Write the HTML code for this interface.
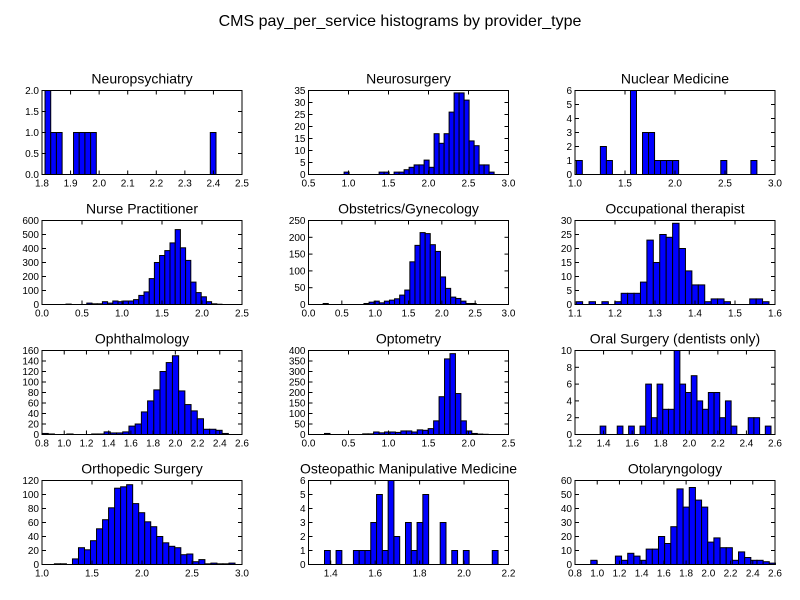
<!DOCTYPE html>
<html><head><meta charset="utf-8"><style>
body{margin:0;background:#fff;}
svg{display:block;font-family:"Liberation Sans","DejaVu Sans",sans-serif;}
</style></head><body>
<svg id="chart" width="800" height="600" viewBox="0 0 800 600">
<rect width="800" height="600" fill="#fff"/>
<text x="400" y="26" text-anchor="middle" font-size="16" fill="#000">CMS pay_per_service histograms by provider_type</text>
</svg>
<script>
const titles = ["Neuropsychiatry","Neurosurgery","Nuclear Medicine","Nurse Practitioner","Obstetrics/Gynecology","Occupational therapist","Ophthalmology","Optometry","Oral Surgery (dentists only)","Orthopedic Surgery","Osteopathic Manipulative Medicine","Otolaryngology"];
const binMin = [1.8106,0.945,1.013,0.30,0.22,1.103,0.8,0.2,1.376,1.124,1.372,0.942];
const binMax = [2.409,2.82,2.819,2.25,2.515,1.585,2.477,2.246,2.572,2.93,2.153,2.604];
const counts0 = [2,1,1,0,0,1,1,1,1,0,0,0,0,0,0,0,0,0,0,0,0,0,0,0,0,0,0,0,0,1];
const counts1 = [1,0,0,0,0,0,0,1,1,0,1,1,2,3,4,4,6,3,17,13,17,26,34,34,31,14,12,4,4,1];
const counts2 = [1,0,0,0,2,1,0,0,0,6,0,3,3,1,1,1,1,0,0,0,0,0,0,0,1,0,0,0,0,1];
const counts3 = [3,0,0,0,10,5,5,20,10,25,20,25,25,35,65,90,185,300,350,385,440,535,405,315,160,85,55,20,5,2];
const counts4 = [3,0,0,0,0,0,0,0,3,7,10,5,10,13,17,28,43,127,176,214,211,178,158,82,48,22,18,10,3,3];
const counts5 = [1,0,1,0,1,0,1,4,4,4,8,23,15,25,24,29,20,12,7,7,1,2,2,1,0,0,0,2,2,1];
const counts6 = [2,1,0,0,1,0,0,0,1,1,5,3,3,5,16,20,43,64,85,120,137,150,83,57,45,30,10,10,8,2];
const counts7 = [5,0,0,0,0,0,0,3,3,12,8,12,12,10,17,17,12,22,20,28,65,180,360,385,195,65,17,5,2,1];
const counts8 = [1,0,0,1,0,1,0,1,6,2,6,3,3,10,6,5,7,4,3,5,5,2,4,1,0,0,2,2,0,1];
const counts9 = [1,1,0,8,24,21,34,51,64,81,109,111,114,87,74,61,54,40,31,26,24,14,15,4,7,1,2,1,1,2];
const counts10 = [1,0,1,0,0,1,1,1,3,5,1,6,2,0,3,1,3,5,0,0,3,0,1,0,1,0,0,0,0,1];
const counts11 = [3,0,0,0,6,3,8,6,3,11,11,20,15,27,54,41,55,46,41,16,19,12,12,3,9,5,3,3,2,1];
const allCounts = [counts0,counts1,counts2,counts3,counts4,counts5,counts6,counts7,counts8,counts9,counts10,counts11];
const xLim = [[1.8,2.5],[0.5,3.0],[1.0,3.0],[0,2.5],[0,3.0],[1.1,1.6],[0.8,2.6],[0,2.5],[1.2,2.6],[1.0,3.0],[1.3,2.2],[0.8,2.6]];
const xStep = [0.1,0.5,0.5,0.5,0.5,0.1,0.2,0.5,0.2,0.5,0.2,0.2];
const xFirstTick = [1.8,0.5,1.0,0,0,1.1,0.8,0,1.2,1.0,1.4,0.8];
const yMax = [2,35,6,600,250,30,160,400,10,120,6,60];
const yStep = [0.5,5,1,100,50,5,20,50,2,20,1,10];

const NS = "http://www.w3.org/2000/svg";
const svg = document.getElementById("chart");
function mk(tag, attrs, parent){const e=document.createElementNS(NS,tag);for(const k in attrs)e.setAttribute(k,attrs[k]);(parent||svg).appendChild(e);return e;}
const colL=[42,308.5,575], rowT=[90.5,220.5,350.5,480.5], W=200, H=84;
function slug(s){return s.toLowerCase().replace(/[^a-z0-9]+/g,'-').replace(/-+$/,'');}

allCounts.forEach((counts,i)=>{
  const L=colL[i%3], T=rowT[Math.floor(i/3)];
  const g=mk("g",{});
  
  
  const [x0,x1]=xLim[i];
  const sx=v=>L+(v-x0)/(x1-x0)*W;
  const sy=v=>T+H-v/yMax[i]*H;
  const t=mk("text",{x:L+W/2,y:T-7,"text-anchor":"middle","font-size":"14",fill:"#000"},g);
  t.textContent=titles[i];
  
  
  const bw=(binMax[i]-binMin[i])/counts.length;
  counts.forEach((c,k)=>{
    if(c<=0) return;
    const a=binMin[i]+k*bw;
    const r=mk("rect",{x:sx(a),y:sy(c),width:sx(a+bw)-sx(a),height:sy(0)-sy(c),fill:"#0000ff",stroke:"#000","stroke-width":"1"},g);
    
    
  });
  const frame=mk("rect",{x:L,y:T,width:W,height:H,fill:"none",stroke:"#000","stroke-width":"1"},g);
  
  
  for(let v=xFirstTick[i]; v<=x1+1e-9; v+=xStep[i]){
    const px=sx(v);
    mk("line",{x1:px,y1:T+H,x2:px,y2:T+H-4,stroke:"#000"},g);
    mk("line",{x1:px,y1:T,x2:px,y2:T+4,stroke:"#000"},g);
    const lb=mk("text",{x:px,y:T+H+12,"text-anchor":"middle","font-size":"10",fill:"#000"},g);
    lb.textContent=v.toFixed(1);
    
    
  }
  const yd = yStep[i]<1 ? 1 : 0;
  for(let v=0; v<=yMax[i]+1e-9; v+=yStep[i]){
    const py=sy(v);
    mk("line",{x1:L,y1:py,x2:L+4,y2:py,stroke:"#000"},g);
    mk("line",{x1:L+W,y1:py,x2:L+W-4,y2:py,stroke:"#000"},g);
    const lb=mk("text",{x:L-3,y:py+3.5,"text-anchor":"end","font-size":"10",fill:"#000"},g);
    lb.textContent=v.toFixed(yd);
    
    
  }
});
</script>
</body></html>
